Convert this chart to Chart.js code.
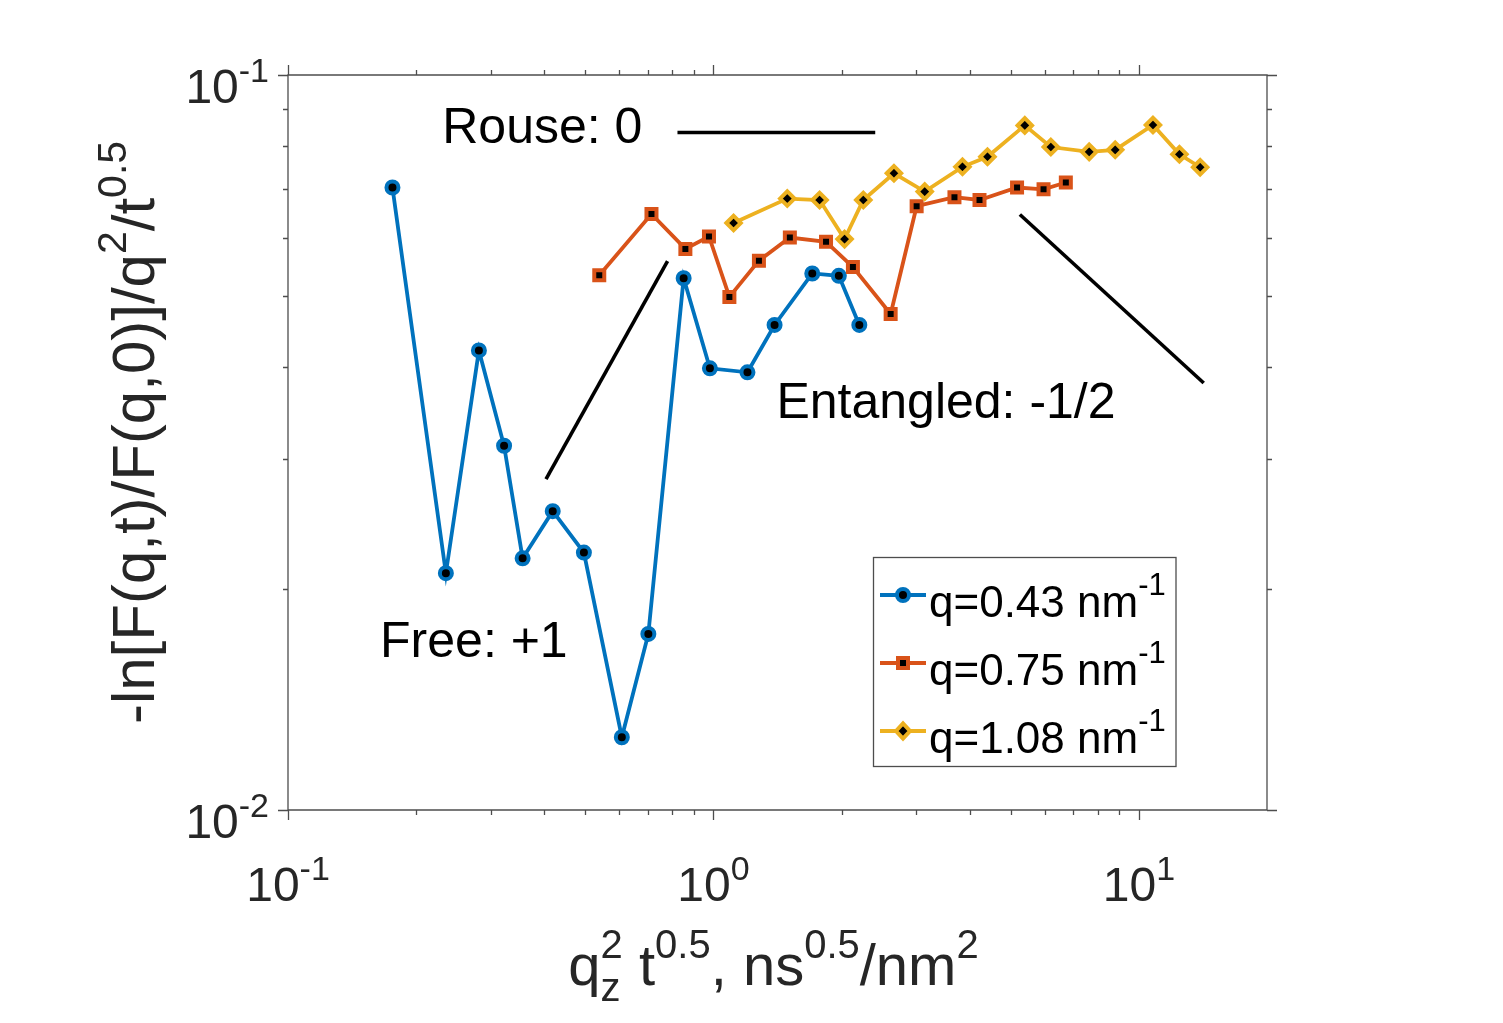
<!DOCTYPE html>
<html>
<head>
<meta charset="utf-8">
<script src="https://cdn.jsdelivr.net/npm/chart.js@4.4.1/dist/chart.umd.min.js"></script>
<style>
html,body{margin:0;padding:0;background:#ffffff;}
#wrap{width:1503px;height:1023px;position:relative;}
</style>
</head>
<body>
<div id="wrap"><canvas id="c" width="1503" height="1023"></canvas></div>
<script>
// ---------------- data ----------------
const xBlue = [0.176, 0.235, 0.281, 0.322, 0.356, 0.419, 0.496, 0.609, 0.703, 0.851, 0.981, 1.202, 1.392, 1.707, 1.971, 2.202];
const yBlue = [0.0703, 0.0210, 0.0422, 0.0313, 0.0220, 0.0255, 0.0224, 0.01256, 0.01736, 0.0529, 0.0399, 0.0394, 0.0457, 0.0537, 0.0533, 0.0457];

const xOrange = [0.539, 0.715, 0.859, 0.976, 1.090, 1.279, 1.512, 1.839, 2.127, 2.609, 3.003, 3.685, 4.220, 5.171, 5.968, 6.733];
const yOrange = [0.0534, 0.0647, 0.0580, 0.0603, 0.0499, 0.0559, 0.0601, 0.0593, 0.0548, 0.0473, 0.0663, 0.0682, 0.0676, 0.0703, 0.0699, 0.0714];

const xYellow = [1.115, 1.491, 1.776, 2.033, 2.250, 2.656, 3.137, 3.848, 4.406, 5.392, 6.208, 7.640, 8.795, 10.79, 12.45, 13.93];
const yYellow = [0.0629, 0.0679, 0.0676, 0.0598, 0.0676, 0.0735, 0.0694, 0.0750, 0.0774, 0.0854, 0.0798, 0.0786, 0.0791, 0.0855, 0.0780, 0.0749];

// slope guide lines
const xRouse = [0.823, 2.40];
const yRouse = [0.0835, 0.0835];
const xFree = [0.404, 0.780];
const yFree = [0.0282, 0.0558];
const xEnt = [5.25, 14.2];
const yEnt = [0.0646, 0.0381];

const seriesNames = ['q=0.43 nm', 'q=0.75 nm', 'q=1.08 nm'];
const seriesSup = ['-1', '-1', '-1'];

const xMajorTicks = [0.1, 1, 10];
const xMinorTicks = [0.2, 0.3, 0.4, 0.5, 0.6, 0.7, 0.8, 0.9, 2, 3, 4, 5, 6, 7, 8, 9];
const yMajorTicks = [0.01, 0.1];
const yMinorTicks = [0.02, 0.03, 0.04, 0.05, 0.06, 0.07, 0.08, 0.09];
const xTickLabels = [['10', '-1'], ['10', '0'], ['10', '1']];
const yTickLabels = [['10', '-2'], ['10', '-1']];

const annotations = [
  {text: 'Rouse: 0', x: 0.2304, y: 0.0808},
  {text: 'Free: +1', x: 0.1646, y: 0.01615},
  {text: 'Entangled: -1/2', x: 1.406, y: 0.03414}
];

// ---------------- style ----------------
const FONT = '"Liberation Sans", Arial, Helvetica, sans-serif';
const C_BLUE = '#0072BD', C_ORANGE = '#D95319', C_YELLOW = '#EDB120';
const AXIS_COLOR = '#4d4d4d';
const TEXT_COLOR = '#262626';

function pts(xs, ys) { return xs.map((x, i) => ({x: x, y: ys[i]})); }

// rich text helpers
function segW(ctx, s) { ctx.font = s.size + 'px ' + FONT; return ctx.measureText(s.t).width; }
function itemW(ctx, it) {
  if (it.stack) return Math.max(...it.stack.map(s => segW(ctx, s)));
  return segW(ctx, it);
}
function richW(ctx, items) { return items.reduce((a, it) => a + itemW(ctx, it), 0); }
function drawRich(ctx, items, x, y, align, color) {
  const w = richW(ctx, items);
  let cx = x;
  if (align === 'center') cx = x - w / 2;
  else if (align === 'right') cx = x - w;
  ctx.fillStyle = color;
  ctx.textBaseline = 'alphabetic';
  ctx.textAlign = 'left';
  for (const it of items) {
    const list = it.stack ? it.stack : [it];
    for (const s of list) {
      ctx.font = s.size + 'px ' + FONT;
      ctx.fillText(s.t, cx, y + (s.dy || 0));
    }
    cx += itemW(ctx, it);
  }
}

function marker(ctx, style, x, y, color) {
  ctx.save();
  ctx.lineWidth = 4;
  ctx.strokeStyle = color;
  ctx.fillStyle = '#000';
  ctx.beginPath();
  if (style === 'circle') ctx.arc(x, y, 6, 0, Math.PI * 2);
  else if (style === 'rect') ctx.rect(x - 5, y - 5, 10, 10);
  else { ctx.moveTo(x - 7, y); ctx.lineTo(x, y - 7.5); ctx.lineTo(x + 7, y); ctx.lineTo(x, y + 7.5); ctx.closePath(); }
  ctx.fill();
  ctx.stroke();
  ctx.restore();
}

const decorPlugin = {
  id: 'decor',
  afterDraw(chart) {
    const ctx = chart.ctx;
    const xs = chart.scales.x, ys = chart.scales.y;
    const a = chart.chartArea;
    ctx.save();
    // axes box
    ctx.strokeStyle = AXIS_COLOR;
    ctx.lineWidth = 1.3;
    ctx.beginPath();
    ctx.rect(a.left, a.top, a.right - a.left, a.bottom - a.top);
    ctx.stroke();
    // ticks (outward, all four sides)
    ctx.beginPath();
    const xt = (v, len) => {
      const p = Math.round(xs.getPixelForValue(v)) + 0.5;
      ctx.moveTo(p, a.bottom); ctx.lineTo(p, a.bottom + len);
      ctx.moveTo(p, a.top); ctx.lineTo(p, a.top - len);
    };
    const yt = (v, len) => {
      const p = Math.round(ys.getPixelForValue(v)) + 0.5;
      ctx.moveTo(a.left, p); ctx.lineTo(a.left - len, p);
      ctx.moveTo(a.right, p); ctx.lineTo(a.right + len, p);
    };
    xMajorTicks.forEach(v => xt(v, 10));
    xMinorTicks.forEach(v => xt(v, 5));
    yMajorTicks.forEach(v => yt(v, 10));
    yMinorTicks.forEach(v => yt(v, 5));
    ctx.stroke();

    // tick labels
    xMajorTicks.forEach((v, i) => {
      const p = xs.getPixelForValue(v);
      drawRich(ctx, [{t: xTickLabels[i][0], size: 48}, {t: xTickLabels[i][1], size: 34, dy: -21}], p, 901, 'center', TEXT_COLOR);
    });
    yMajorTicks.forEach((v, i) => {
      const p = ys.getPixelForValue(v);
      drawRich(ctx, [{t: yTickLabels[i][0], size: 48}, {t: yTickLabels[i][1], size: 34, dy: -21}], a.left - 19, p + 28, 'right', TEXT_COLOR);
    });

    // x axis title
    const xTitle = [
      {t: 'q', size: 58},
      {stack: [{t: 'z', size: 40, dy: 16}, {t: '2', size: 40, dy: -27}]},
      {t: ' t', size: 58},
      {t: '0.5', size: 40, dy: -27},
      {t: ', ns', size: 58},
      {t: '0.5', size: 40, dy: -27},
      {t: '/nm', size: 58},
      {t: '2', size: 40, dy: -27}
    ];
    drawRich(ctx, xTitle, (a.left + a.right) / 2 - 4, 985, 'center', TEXT_COLOR);

    // y axis title
    const yTitle = [
      {t: '-ln[F(q,t)/F(q,0)]/q', size: 60},
      {t: '2', size: 41, dy: -28},
      {t: '/t', size: 60},
      {t: '0.5', size: 41, dy: -28}
    ];
    ctx.save();
    ctx.translate(154, (a.top + a.bottom) / 2 - 10);
    ctx.rotate(-Math.PI / 2);
    drawRich(ctx, yTitle, 0, 0, 'center', TEXT_COLOR);
    ctx.restore();

    // annotation texts (positioned in data coordinates)
    annotations.forEach(an => {
      ctx.font = '50px ' + FONT;
      ctx.fillStyle = '#000';
      ctx.textAlign = 'left';
      ctx.textBaseline = 'alphabetic';
      ctx.fillText(an.text, xs.getPixelForValue(an.x), ys.getPixelForValue(an.y));
    });

    // legend
    const lx = 873.5, ly = 557.5, lw = 302.5, lh = 209;
    ctx.fillStyle = '#fff';
    ctx.fillRect(lx, ly, lw, lh);
    ctx.strokeStyle = AXIS_COLOR;
    ctx.lineWidth = 1.3;
    ctx.strokeRect(lx, ly, lw, lh);
    const colors = [C_BLUE, C_ORANGE, C_YELLOW];
    const styles = ['circle', 'rect', 'diamond'];
    const rowBase = [617, 685, 753];
    for (let i = 0; i < 3; i++) {
      const yl = rowBase[i] - 22;
      ctx.strokeStyle = colors[i];
      ctx.lineWidth = 3.8;
      ctx.beginPath();
      ctx.moveTo(880, yl); ctx.lineTo(926, yl);
      ctx.stroke();
      marker(ctx, styles[i], 903, yl, colors[i]);
      drawRich(ctx, [{t: seriesNames[i], size: 44}, {t: seriesSup[i], size: 31, dy: -22}], 929, rowBase[i], 'left', '#000');
    }
    ctx.restore();
  }
};

const lineDS = (data, color, style, radius, order) => ({
  data: data, showLine: true, borderColor: color, borderWidth: 3.8,
  pointStyle: style, pointRadius: radius, pointBorderWidth: 4,
  pointBackgroundColor: '#000', pointBorderColor: color,
  pointHoverRadius: radius, tension: 0, order: order, clip: false
});
const guideDS = (data) => ({
  data: data, showLine: true, borderColor: '#000', borderWidth: 3.6,
  pointRadius: 0, pointHoverRadius: 0, tension: 0, order: -1, borderCapStyle: 'butt'
});

new Chart(document.getElementById('c'), {
  type: 'scatter',
  data: {
    datasets: [
      lineDS(pts(xBlue, yBlue), C_BLUE, 'circle', 6, 2),
      lineDS(pts(xOrange, yOrange), C_ORANGE, 'rect', 7.07, 1),
      lineDS(pts(xYellow, yYellow), C_YELLOW, 'rectRot', 7.2, 0),
      guideDS(pts(xRouse, yRouse)),
      guideDS(pts(xFree, yFree)),
      guideDS(pts(xEnt, yEnt))
    ]
  },
  options: {
    responsive: false,
    devicePixelRatio: 1,
    animation: false,
    events: [],
    layout: {padding: {left: 288, top: 75, right: 236, bottom: 213}},
    plugins: {legend: {display: false}, tooltip: {enabled: false}},
    scales: {
      x: {type: 'logarithmic', min: 0.1, max: 20, display: false},
      y: {type: 'logarithmic', min: 0.01, max: 0.1, display: false}
    }
  },
  plugins: [decorPlugin]
});
</script>
</body>
</html>
